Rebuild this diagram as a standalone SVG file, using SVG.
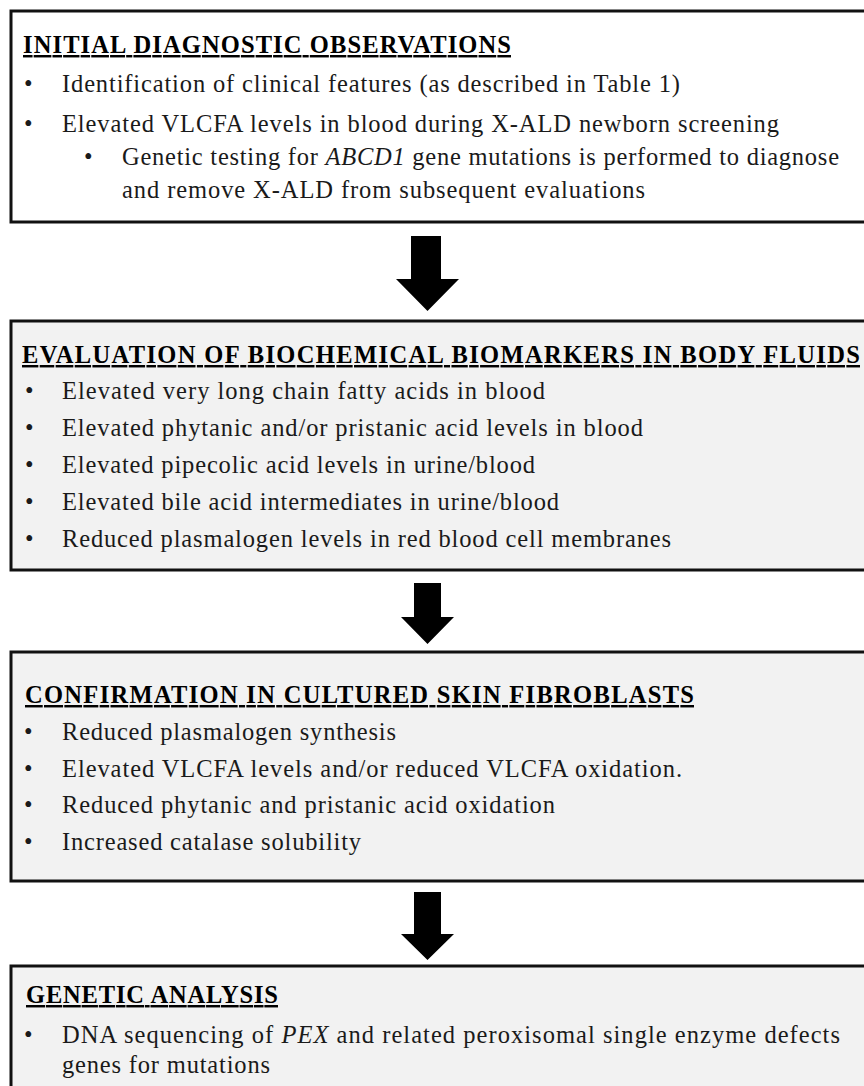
<svg xmlns="http://www.w3.org/2000/svg" width="864" height="1086" viewBox="0 0 864 1086">
<style>
.box{stroke:#111;stroke-width:3}
.w{fill:#ffffff}
.g{fill:#f2f2f2}
text{font-family:"Times New Roman","Liberation Serif",Tinos,"Nimbus Roman","Nimbus Roman No9 L",FreeSerif,Times,serif;fill:#1a1a1a;font-size:24.5px}
.t{font-weight:bold;fill:#000;text-decoration:underline}
.i{font-style:italic}
.arr{fill:#000}
</style>
<rect width="864" height="1086" fill="#ffffff"/>
<g id="connectors">
<polygon class="arr" points="411,236 441,236 441,279 459,279 427.5,311 396,279 411,279"/>
<polygon class="arr" points="414,583 441,583 441,617 454,617 427.5,644 401,617 414,617"/>
<polygon class="arr" points="414,892 441,892 441,934 454,934 427.5,960 401,934 414,934"/>
</g>
<g id="node-initial">
<rect class="box w" x="11" y="11" width="860" height="211"/>
<text class="t" x="23" y="53" textLength="488" lengthAdjust="spacing">INITIAL DIAGNOSTIC OBSERVATIONS</text>
<text x="24" y="92">•</text>
<text x="62" y="92" textLength="618" lengthAdjust="spacing">Identification of clinical features (as described in Table 1)</text>
<text x="24" y="132">•</text>
<text x="62" y="132" textLength="717" lengthAdjust="spacing">Elevated VLCFA levels in blood during X-ALD newborn screening</text>
<text x="84" y="165">•</text>
<text x="122" y="165" textLength="717" lengthAdjust="spacing">Genetic testing for <tspan class="i">ABCD1</tspan> gene mutations is performed to diagnose</text>
<text x="122" y="198" textLength="523" lengthAdjust="spacing">and remove X-ALD from subsequent evaluations</text>
</g>
<g id="node-biochemical">
<rect class="box g" x="11" y="321" width="860" height="249"/>
<text class="t" x="22" y="363" textLength="838" lengthAdjust="spacing">EVALUATION OF BIOCHEMICAL BIOMARKERS IN BODY FLUIDS</text>
<text x="25" y="399">•</text>
<text x="62" y="399" textLength="483" lengthAdjust="spacing">Elevated very long chain fatty acids in blood</text>
<text x="25" y="436">•</text>
<text x="62" y="436" textLength="581" lengthAdjust="spacing">Elevated phytanic and/or pristanic acid levels in blood</text>
<text x="25" y="473">•</text>
<text x="62" y="473" textLength="473" lengthAdjust="spacing">Elevated pipecolic acid levels in urine/blood</text>
<text x="25" y="510">•</text>
<text x="62" y="510" textLength="497" lengthAdjust="spacing">Elevated bile acid intermediates in urine/blood</text>
<text x="25" y="547">•</text>
<text x="62" y="547" textLength="609" lengthAdjust="spacing">Reduced plasmalogen levels in red blood cell membranes</text>
</g>
<g id="node-fibroblasts">
<rect class="box g" x="11" y="652" width="860" height="229"/>
<text class="t" x="25" y="703" textLength="669" lengthAdjust="spacing">CONFIRMATION IN CULTURED SKIN FIBROBLASTS</text>
<text x="24" y="740">•</text>
<text x="62" y="740" textLength="334" lengthAdjust="spacing">Reduced plasmalogen synthesis</text>
<text x="24" y="777">•</text>
<text x="62" y="777" textLength="620" lengthAdjust="spacing">Elevated VLCFA levels and/or reduced VLCFA oxidation.</text>
<text x="24" y="813">•</text>
<text x="62" y="813" textLength="493" lengthAdjust="spacing">Reduced phytanic and pristanic acid oxidation</text>
<text x="24" y="850">•</text>
<text x="62" y="850" textLength="299" lengthAdjust="spacing">Increased catalase solubility</text>
</g>
<g id="node-genetic">
<rect class="box g" x="11" y="966" width="860" height="140"/>
<text class="t" x="26" y="1003" textLength="252" lengthAdjust="spacing">GENETIC ANALYSIS</text>
<text x="24" y="1043">•</text>
<text x="62" y="1043" textLength="778" lengthAdjust="spacing">DNA sequencing of <tspan class="i">PEX</tspan> and related peroxisomal single enzyme defects</text>
<text x="62" y="1073" textLength="208" lengthAdjust="spacing">genes for mutations</text>
</g>
</svg>
